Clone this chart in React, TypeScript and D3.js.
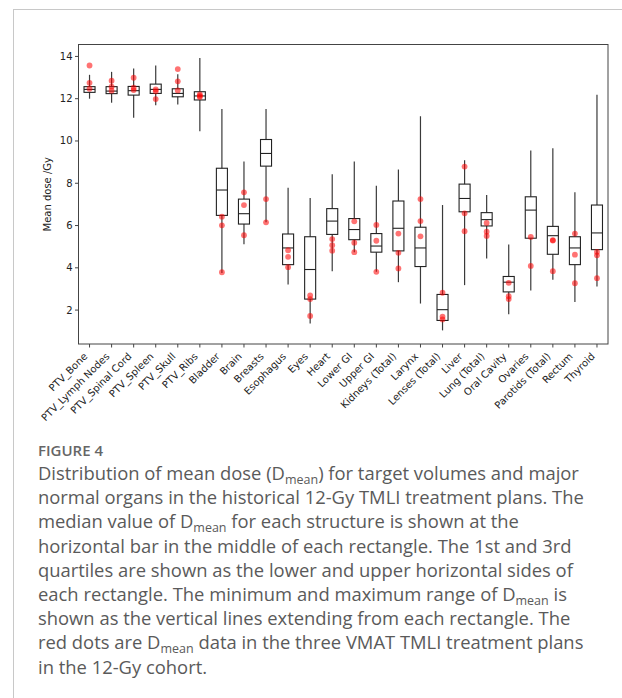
import React from "react";
import * as d3 from "d3";

const categories = ["PTV_Bone","PTV_Lymph Nodes","PTV_Spinal Cord","PTV_Spleen","PTV_Skull","PTV_Ribs","Bladder","Brain","Breasts","Esophagus","Eyes","Heart","Lower GI","Upper GI","Kidneys (Total)","Larynx","Lenses (Total)","Liver","Lung (Total)","Oral Cavity","Ovaries","Parotids (Total)","Rectum","Thyroid"];

const whiskerMin = [12.0, 11.81, 11.10, 11.69, 11.72, 10.46, 3.76, 5.11, 6.15, 3.21, 1.37, 3.84, 4.74, 3.81, 3.32, 2.31, 1.04, 3.18, 4.44, 1.80, 2.93, 3.44, 2.38, 3.12];
const q1 = [12.30, 12.24, 12.17, 12.25, 12.09, 11.94, 6.48, 6.07, 8.81, 4.15, 2.52, 5.58, 5.33, 4.74, 4.80, 4.06, 1.51, 6.65, 5.98, 2.86, 5.40, 4.64, 4.15, 4.86];
const median = [12.44, 12.36, 12.38, 12.44, 12.25, 12.13, 7.68, 6.56, 9.41, 4.94, 3.92, 6.21, 5.81, 5.03, 5.87, 4.94, 2.02, 7.28, 6.28, 3.32, 6.73, 5.52, 4.94, 5.65];
const q3 = [12.57, 12.57, 12.58, 12.69, 12.47, 12.33, 8.71, 7.25, 10.07, 5.60, 5.47, 6.80, 6.33, 5.62, 7.16, 5.92, 2.74, 7.96, 6.61, 3.59, 7.36, 5.96, 5.47, 6.97];
const whiskerMax = [13.13, 13.27, 13.43, 13.57, 13.16, 13.92, 11.51, 9.03, 11.51, 7.79, 7.30, 8.43, 9.03, 7.88, 8.65, 11.17, 6.97, 9.09, 7.44, 5.10, 9.55, 9.66, 7.58, 12.19];

// D_mean of the three VMAT TMLI plans (red dots)
const vmatDots = [
  [13.57, 12.75, 12.47],
  [12.85, 12.57, 12.38],
  [12.99, 12.52, 12.41],
  [12.44, 12.35, 11.98],
  [13.40, 12.82, 12.39],
  [12.20, 12.13, 12.08],
  [6.42, 6.01, 3.79],
  [7.57, 6.97, 5.54],
  [7.25, 6.15],
  [4.83, 4.52, 4.03],
  [2.69, 2.52, 1.72],
  [5.36, 5.07, 4.81],
  [6.20, 5.19, 4.74],
  [6.03, 5.28, 3.81],
  [5.62, 4.71, 3.97],
  [7.25, 6.21, 5.49],
  [2.82, 1.69, 1.56],
  [8.79, 6.58, 5.73],
  [6.12, 5.71, 5.51],
  [3.29, 2.66, 2.52],
  [5.46, 4.09],
  [5.31, 5.29, 3.84],
  [5.62, 4.62, 3.27],
  [4.75, 4.59, 3.51],
];

const yTicks = [2, 4, 6, 8, 10, 12, 14];
const yLabel = "Mean dose /Gy";
const figureLabel = "FIGURE 4";
// caption lines: segments, [text, isSubscript]
const captionLines: [string, boolean][][] = [
  [["Distribution of mean dose (D", false], ["mean", true], [") for target volumes and major", false]],
  [["normal organs in the historical 12-Gy TMLI treatment plans. The", false]],
  [["median value of D", false], ["mean", true], [" for each structure is shown at the", false]],
  [["horizontal bar in the middle of each rectangle. The 1st and 3rd", false]],
  [["quartiles are shown as the lower and upper horizontal sides of", false]],
  [["each rectangle. The minimum and maximum range of D", false], ["mean", true], [" is", false]],
  [["shown as the vertical lines extending from each rectangle. The", false]],
  [["red dots are D", false], ["mean", true], [" data in the three VMAT TMLI treatment plans", false]],
  [["in the 12-Gy cohort.", false]],
];

const W = 622, H = 698;
const L = 78.5, R = 608, T = 44.5, B = 344;

export default function App() {
  const n = categories.length;
  const x = d3.scaleLinear().domain([0.5, n + 0.5]).range([L, R]);
  const lo = d3.min(whiskerMin)!, hi = d3.max(whiskerMax)!;
  const pad = (hi - lo) * 0.05;
  const y = d3.scaleLinear().domain([lo - pad, hi + pad]).range([B, T]);
  const bw = x(1.25) - x(1);
  const font = "'DejaVu Sans', sans-serif";

  return (
    <svg width={W} height={H} style={{ position: "absolute", left: 0, top: 0, background: "#fff" }}>
      <rect x={13.5} y={9.5} width={700} height={800} fill="none" stroke="#c8c8c8" strokeWidth={1} />

      {/* boxes */}
      {categories.map((c, i) => {
        const cx = x(i + 1);
        return (
          <g key={c}>
            <line x1={cx} x2={cx} y1={y(whiskerMax[i])} y2={y(q3[i])} stroke="#3a3a3a" strokeWidth={1.2} />
            <line x1={cx} x2={cx} y1={y(q1[i])} y2={y(whiskerMin[i])} stroke="#3a3a3a" strokeWidth={1.2} />
            <rect x={cx - bw} y={y(q3[i])} width={2 * bw} height={y(q1[i]) - y(q3[i])} fill="none" stroke="#222" strokeWidth={1.1} />
            <line x1={cx - bw} x2={cx + bw} y1={y(median[i])} y2={y(median[i])} stroke="#222" strokeWidth={1.1} />
            {vmatDots[i].map((v, j) => (
              <circle key={j} cx={cx} cy={y(v)} r={2.9} fill="#ff0000" fillOpacity={0.55} />
            ))}
          </g>
        );
      })}

      {/* spines */}
      <rect x={L} y={T} width={R - L} height={B - T} fill="none" stroke="#444" strokeWidth={1} />

      {/* y axis */}
      {yTicks.map((t) => (
        <g key={t}>
          <line x1={L - 3.5} x2={L} y1={y(t)} y2={y(t)} stroke="#444" strokeWidth={1} />
          <text x={L - 6} y={y(t)} dy="0.35em" textAnchor="end" fontFamily={font} fontSize={10} fill="#222">{t}</text>
        </g>
      ))}
      <text transform={`translate(51,${(T + B) / 2}) rotate(-90)`} textAnchor="middle" fontFamily={font} fontSize={10} fill="#222">{yLabel}</text>

      {/* x axis */}
      {categories.map((c, i) => {
        const cx = x(i + 1);
        return (
          <g key={"t" + c}>
            <line x1={cx} x2={cx} y1={B} y2={B + 3.5} stroke="#444" strokeWidth={1} />
            <text transform={`translate(${cx - 1.5},${B + 13}) rotate(-45)`} textAnchor="end" fontFamily={font} fontSize={10} fill="#222">{c}</text>
          </g>
        );
      })}

      {/* caption */}
      <text x={38} y={456} fontFamily="'Open Sans', sans-serif" fontSize={15} fontWeight={600} fill="#666">{figureLabel}</text>
      {captionLines.map((line, li) => (
        <text key={li} x={38} y={480 + li * 24.2} fontFamily="'Open Sans', sans-serif" fontSize={18.4} fill="#5a5a5a">
          {line.map(([s, sub], k) =>
            sub ? (
              <tspan key={k} fontSize={12.5} dy={4}>{s}</tspan>
            ) : (
              <tspan key={k} dy={k > 0 && line[k - 1][1] ? -4 : 0}>{s}</tspan>
            )
          )}
        </text>
      ))}
    </svg>
  );
}
